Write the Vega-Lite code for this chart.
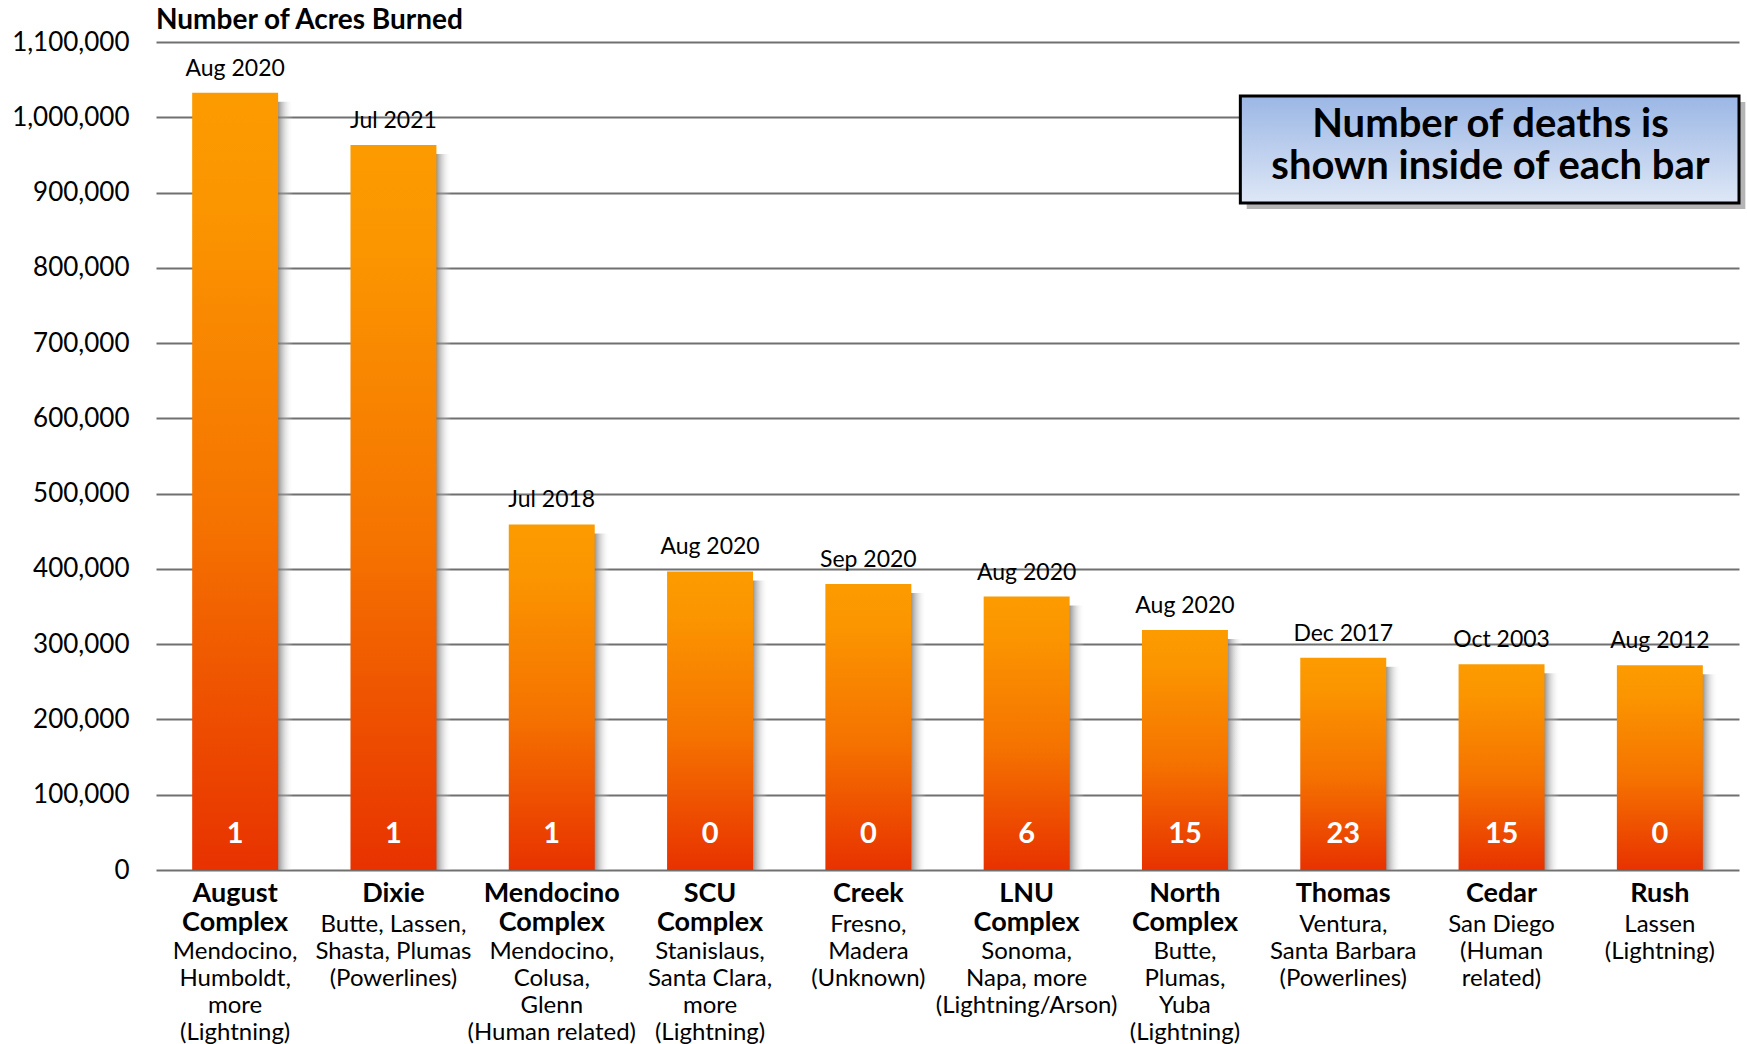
{
  "$schema": "https://vega.github.io/schema/vega-lite/v6.json",
  "width": 1583,
  "height": 828,
  "padding": {"left": 11, "top": 7, "right": 0, "bottom": 0},
  "background": "white",
  "title": {
    "text": "Number of Acres Burned",
    "anchor": "start",
    "frame": "group",
    "font": "Lato",
    "fontSize": 28,
    "fontWeight": "bold",
    "color": "black",
    "offset": -6
  },
  "config": {
    "view": {"stroke": null},
    "font": "Lato"
  },
  "layer": [
    {
      "data": {
        "values": [
          {"fire": "August Complex", "acres": 1032648, "date": "Aug 2020", "deaths": 1, "desc": "Mendocino,\nHumboldt,\nmore\n(Lightning)"},
          {"fire": "Dixie", "acres": 963309, "date": "Jul 2021", "deaths": 1, "desc": "Butte, Lassen,\nShasta, Plumas\n(Powerlines)"},
          {"fire": "Mendocino Complex", "acres": 459123, "date": "Jul 2018", "deaths": 1, "desc": "Mendocino,\nColusa,\nGlenn\n(Human related)"},
          {"fire": "SCU Complex", "acres": 396624, "date": "Aug 2020", "deaths": 0, "desc": "Stanislaus,\nSanta Clara,\nmore\n(Lightning)"},
          {"fire": "Creek", "acres": 379895, "date": "Sep 2020", "deaths": 0, "desc": "Fresno,\nMadera\n(Unknown)"},
          {"fire": "LNU Complex", "acres": 363220, "date": "Aug 2020", "deaths": 6, "desc": "Sonoma,\nNapa, more\n(Lightning/Arson)"},
          {"fire": "North Complex", "acres": 318935, "date": "Aug 2020", "deaths": 15, "desc": "Butte,\nPlumas,\nYuba\n(Lightning)"},
          {"fire": "Thomas", "acres": 281893, "date": "Dec 2017", "deaths": 23, "desc": "Ventura,\nSanta Barbara\n(Powerlines)"},
          {"fire": "Cedar", "acres": 273246, "date": "Oct 2003", "deaths": 15, "desc": "San Diego\n(Human\nrelated)"},
          {"fire": "Rush", "acres": 271911, "date": "Aug 2012", "deaths": 0, "desc": "Lassen\n(Lightning)"}
        ]
      },
      "encoding": {
        "x": {
          "field": "fire",
          "type": "nominal",
          "sort": null,
          "scale": {"paddingInner": 0.457, "paddingOuter": 0.2285},
          "axis": {
            "title": null,
            "labelExpr": "split(datum.value, ' ')",
            "labelFont": "Lato",
            "labelFontSize": 27,
            "labelFontWeight": "bold",
            "labelColor": "black",
            "labelLineHeight": 29,
            "labelPadding": 10,
            "labelAngle": 0,
            "labelAlign": "center",
            "labelBaseline": "top",
            "ticks": false,
            "domain": false,
            "labelOverlap": false,
            "labelLimit": 400
          }
        }
      },
      "layer": [
        {
          "mark": {
            "type": "bar",
            "xOffset": 15,
            "yOffset": 9,
            "y2Offset": 0,
            "color": {
              "gradient": "linear",
              "x1": 0, "y1": 0, "x2": 1, "y2": 0,
              "stops": [
                {"offset": 0, "color": "rgba(100,100,100,0.85)"},
                {"offset": 0.82, "color": "rgba(115,115,115,0.8)"},
                {"offset": 1, "color": "rgba(255,255,255,0)"}
              ]
            }
          },
          "encoding": {
            "y": {
              "field": "acres",
              "type": "quantitative",
              "scale": {"domain": [0, 1100000]},
              "axis": {
                "title": null,
                "values": [0, 100000, 200000, 300000, 400000, 500000, 600000, 700000, 800000, 900000, 1000000, 1100000],
                "format": ",d",
                "labelFont": "Lato",
                "labelFontSize": 26,
                "labelColor": "black",
                "labelPadding": 27,
                "ticks": false,
                "domain": false,
                "grid": true,
                "gridColor": "#707070",
                "gridWidth": 2
              }
            },
            "y2": {"datum": 0}
          }
        },
        {
          "mark": {
            "type": "bar",
            "color": {
              "gradient": "linear",
              "x1": 0, "y1": 0, "x2": 0, "y2": 1,
              "stops": [
                {"offset": 0, "color": "#FC9B00"},
                {"offset": 0.15, "color": "#FB9500"},
                {"offset": 0.55, "color": "#F57300"},
                {"offset": 1, "color": "#E83200"}
              ]
            }
          },
          "encoding": {
            "y": {"field": "acres", "type": "quantitative"},
            "y2": {"datum": 0}
          }
        },
        {
          "mark": {"type": "text", "baseline": "middle", "align": "center", "dy": -24, "font": "Lato", "fontSize": 23, "color": "black"},
          "encoding": {
            "y": {"field": "acres", "type": "quantitative"},
            "text": {"field": "date", "type": "nominal"}
          }
        },
        {
          "mark": {"type": "text", "baseline": "middle", "align": "center", "dy": -36, "font": "Lato", "fontSize": 29, "fontWeight": "bold", "color": "white"},
          "encoding": {
            "y": {"datum": 0},
            "text": {"field": "deaths", "type": "quantitative"}
          }
        },
        {
          "transform": [{"filter": "indexof(datum.fire, ' ') < 0"}],
          "mark": {"type": "text", "baseline": "top", "align": "center", "dy": 43, "font": "Lato", "fontSize": 24, "lineHeight": 27, "lineBreak": "\n", "color": "black"},
          "encoding": {
            "y": {"datum": 0},
            "text": {"field": "desc", "type": "nominal"}
          }
        },
        {
          "transform": [{"filter": "indexof(datum.fire, ' ') >= 0"}],
          "mark": {"type": "text", "baseline": "top", "align": "center", "dy": 70, "font": "Lato", "fontSize": 24, "lineHeight": 27, "lineBreak": "\n", "color": "black"},
          "encoding": {
            "y": {"datum": 0},
            "text": {"field": "desc", "type": "nominal"}
          }
        }
      ]
    },
    {
      "data": {
        "values": [
          {"x0": 6.85, "x1": 10, "ytop": 1028300, "ybot": 886100, "sx0": 6.89, "sx1": 10.04, "sytop": 1020300, "sybot": 878100, "tx": 8.43, "ty": 990000, "note": "Number of deaths is\nshown inside of each bar"}
        ]
      },
      "layer": [
        {
          "mark": {"type": "rect", "color": "rgba(90,90,90,0.45)"},
          "encoding": {
            "x": {"field": "sx0", "type": "quantitative", "scale": {"domain": [0, 10]}, "axis": null},
            "x2": {"field": "sx1"},
            "y": {"field": "sytop", "type": "quantitative"},
            "y2": {"field": "sybot"}
          }
        },
        {
          "mark": {
            "type": "rect",
            "stroke": "black",
            "strokeWidth": 3,
            "color": {
              "gradient": "linear",
              "x1": 0, "y1": 0, "x2": 0, "y2": 1,
              "stops": [
                {"offset": 0, "color": "#9BB7E5"},
                {"offset": 1, "color": "#DEE7F6"}
              ]
            }
          },
          "encoding": {
            "x": {"field": "x0", "type": "quantitative", "scale": {"domain": [0, 10]}, "axis": null},
            "x2": {"field": "x1"},
            "y": {"field": "ytop", "type": "quantitative"},
            "y2": {"field": "ybot"}
          }
        },
        {
          "mark": {"type": "text", "align": "center", "baseline": "middle", "font": "Lato", "fontSize": 40, "fontWeight": "bold", "lineHeight": 42, "lineBreak": "\n", "color": "black"},
          "encoding": {
            "x": {"field": "tx", "type": "quantitative", "scale": {"domain": [0, 10]}, "axis": null},
            "y": {"field": "ty", "type": "quantitative"},
            "text": {"field": "note", "type": "nominal"}
          }
        }
      ]
    }
  ],
  "resolve": {"scale": {"x": "independent"}, "axis": {"x": "independent"}}
}
